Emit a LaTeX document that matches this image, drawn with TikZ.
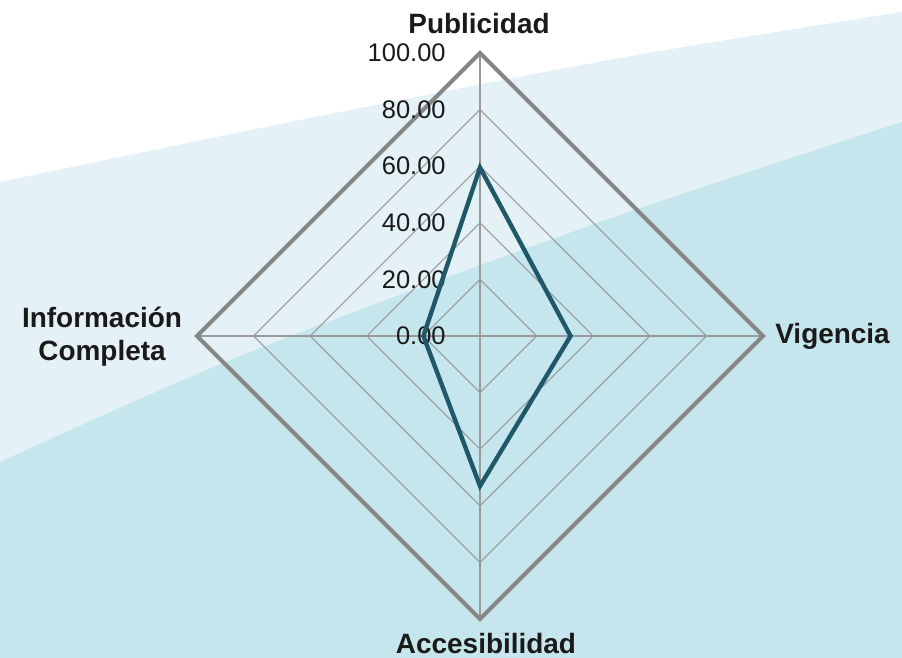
\documentclass[tikz,border=0pt]{standalone}
\usepackage{fontspec}
\setmainfont{Liberation Sans}
\usepackage{tikz}
\usetikzlibrary{calc}
\definecolor{bandlight}{HTML}{E4F2F7}
\definecolor{banddeep}{HTML}{C5E6EC}
\definecolor{gridgray}{HTML}{9A9A9A}
\definecolor{rimgray}{HTML}{868686}
\definecolor{datateal}{HTML}{1F5868}
\definecolor{txt}{HTML}{1A1A1A}

\begin{document}
\begin{tikzpicture}[x=0.02cm,y=-0.02cm,
	ax/.style={inner sep=0pt, text=txt, align=center, font=\bfseries\fontsize{15.9}{18.8}\selectfont},
	tk/.style={inner sep=0pt, anchor=east, text=txt, font=\fontsize{14.5}{16}\selectfont},
	gr/.style={gridgray, line width=0.6pt},
	rim/.style={rimgray, line width=2.3pt, line join=miter},
	dv/.style={datateal, line width=2.5pt, line join=miter}]
\useasboundingbox (0,0) rectangle (902,658);
% background
\fill[bandlight] plot[smooth] coordinates {(0,182) (300,120) (620,58) (902,12)} -- (902,658) -- (0,658) -- cycle;
\fill[banddeep] plot[smooth] coordinates {(0,462) (250,352) (600,222) (902,122)} -- (902,658) -- (0,658) -- cycle;

\coordinate (c) at (480,336);
\coordinate (pub) at ($(c)+(0,-283)$);
\coordinate (vig) at ($(c)+(283,0)$);
\coordinate (acc) at ($(c)+(0,283)$);
\coordinate (inf) at ($(c)+(-283,0)$);

\foreach \r in {20, 40,...,80} {
\draw[gr] ($(c)!\r/100!(pub)$) -- ($(c)!\r/100!(vig)$) -- ($(c)!\r/100!(acc)$) -- ($(c)!\r/100!(inf)$) -- cycle;
}
\draw[gr] (pub) -- (acc);
\draw[gr] (inf) -- (vig);
\draw[rim] (pub) -- (vig) -- (acc) -- (inf) -- cycle;

\foreach \r in {0, 20,...,100} {
\node (t\r) at ($(c)!\r/100!(pub)-(34,0)$) [tk] {\r.00};
}

% values
\coordinate (d1) at ($(c)!0.595!(pub)$);
\coordinate (d2) at ($(c)!0.32!(vig)$);
\coordinate (d3) at ($(c)!0.53!(acc)$);
\coordinate (d4) at ($(c)!0.20!(inf)$);
\draw[dv] (d1) -- (d2) -- (d3) -- (d4) -- cycle;

\node (lpub) at ($(pub)+(-1,-29)$) [ax] {Publicidad};
\node (lvig) at ($(vig)+(12,0)$) [ax,anchor=west] {Vigencia};
\node (lacc) at ($(acc)+(6,25)$) [ax] {Accesibilidad};
\node (linf) at ($(inf)+(-95,1)$) [ax] {Información\\Completa};
\end{tikzpicture}
\end{document}
